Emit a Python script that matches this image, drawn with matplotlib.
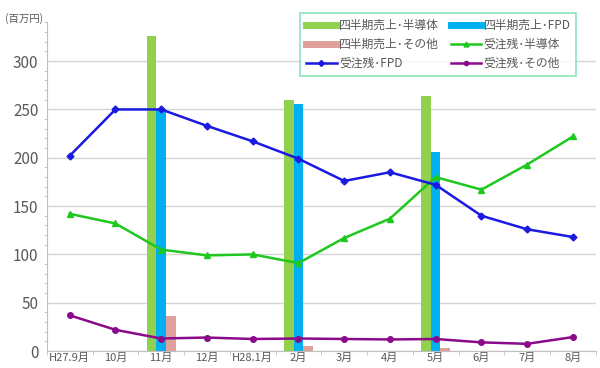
import numpy as np
import matplotlib
matplotlib.use("Agg")
import matplotlib.pyplot as plt
from matplotlib.lines import Line2D
from matplotlib.ticker import MultipleLocator, FixedLocator

plt.rcParams['font.family'] = ['Noto Sans CJK JP', 'DejaVu Sans']

months = ["H27.9月", "10月", "11月", "12月", "H28.1月", "2月",
          "3月", "4月", "5月", "6月", "7月", "8月"]

# quarterly sales (only reported in 11月, 2月, 5月)
nan = np.nan
sales_semi = [nan, nan, 326, nan, nan, 260, nan, nan, 264, nan, nan, nan]
sales_fpd = [nan, nan, 250, nan, nan, 256, nan, nan, 206, nan, nan, nan]
sales_other = [nan, nan, 36, nan, nan, 5, nan, nan, 3.5, nan, nan, nan]

# order backlog
backlog_semi = [142, 132, 105, 99, 100, 91, 117, 137, 180, 167, 193, 222]
backlog_fpd = [202, 250, 250, 233, 217, 199, 176, 185, 172, 140, 126, 118]
backlog_other = [37, 22, 13, 14, 12.5, 13, 12.5, 12, 12.5, 9, 7.5, 14.5]

c_semi_bar = "#92d050"
c_fpd_bar = "#00b0f0"
c_other_bar = "#e0a09c"
c_semi_line = "#1ec81e"
c_fpd_line = "#1a1ae0"
c_other_line = "#8a0a8a"
grey = "#595959"

x = np.arange(len(months))
w = 0.21

fig = plt.figure(figsize=(6, 3.68), dpi=100)
ax = fig.add_axes([0.078, 0.046, 0.915, 0.893])

ax.bar(x - w, sales_semi, w, color=c_semi_bar, zorder=2)
ax.bar(x, sales_fpd, w, color=c_fpd_bar, zorder=2)
ax.bar(x + w, sales_other, w, color=c_other_bar, zorder=2)

ax.plot(x, backlog_semi, color=c_semi_line, lw=1.8, marker="^", ms=4, zorder=3)
ax.plot(x, backlog_fpd, color=c_fpd_line, lw=1.8, marker="D", ms=3.5, zorder=4)
ax.plot(x, backlog_other, color=c_other_line, lw=1.8, marker="o", ms=4, zorder=3)

ax.set_xlim(-0.5, len(months) - 0.5)
ax.set_ylim(0, 340)
ax.set_yticks([0, 50, 100, 150, 200, 250, 300])
ax.yaxis.set_minor_locator(MultipleLocator(10))
ax.yaxis.grid(True, color="#d4d4d4", lw=1)
ax.set_axisbelow(True)

ax.set_xticks(x)
ax.set_xticklabels(months, fontsize=8, color=grey)
ax.xaxis.set_minor_locator(FixedLocator(np.arange(-0.5, len(months), 1)))
ax.tick_params(axis="x", which="major", length=0, pad=1.5)
ax.tick_params(axis="x", which="minor", length=3, color="#c0c0c0")
ax.tick_params(axis="y", which="major", length=0, labelsize=11, labelcolor=grey, pad=6)
ax.tick_params(axis="y", which="minor", length=2, color="#c0c0c0")

for s in ["top", "right"]:
    ax.spines[s].set_visible(False)
ax.spines["left"].set_color("#c0c0c0")
ax.spines["bottom"].set_color("#c0c0c0")

fig.text(0.008, 0.94, "(百万円)", fontsize=7.5, color=grey)

handles = [
    Line2D([], [], color=c_semi_bar, lw=5),
    Line2D([], [], color=c_other_bar, lw=5),
    Line2D([], [], color=c_fpd_line, lw=1.8, marker="D", ms=3),
    Line2D([], [], color=c_fpd_bar, lw=5),
    Line2D([], [], color=c_semi_line, lw=1.8, marker="^", ms=3.5),
    Line2D([], [], color=c_other_line, lw=1.8, marker="o", ms=3),
]
labels = ["四半期売上･半導体", "四半期売上･その他", "受注残･FPD",
          "四半期売上･FPD", "受注残･半導体", "受注残･その他"]
leg = fig.legend(handles, labels, ncol=2, fontsize=8.5, loc="upper left",
                 bbox_to_anchor=(0.49, 0.98), frameon=True, fancybox=False,
                 handlelength=2.6, columnspacing=1.0, labelspacing=0.5,
                 borderpad=0.5, handletextpad=0.2)
leg.get_frame().set_edgecolor("#70e0a8")
leg.get_frame().set_linewidth(1.2)
for t in leg.get_texts():
    t.set_color(grey)

fig.savefig("out.png", dpi=100)
